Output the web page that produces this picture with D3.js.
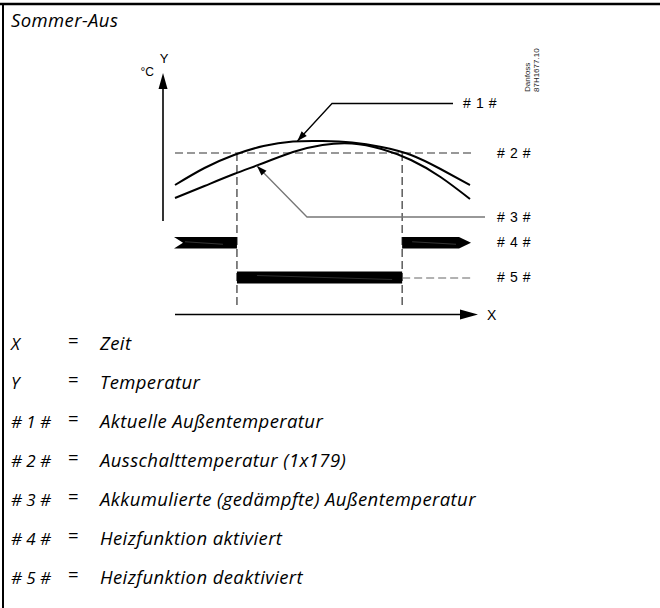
<!DOCTYPE html>
<html><head><meta charset="utf-8">
<script src="https://cdn.jsdelivr.net/npm/d3@7"></script>
<style>body{margin:0;background:#fff}svg{display:block}</style>
</head><body>
<script>
// ---- data ----
const timeSteps = [0, 10, 20, 30, 40, 50, 60, 70, 80, 90, 100];
const actualTemp = [14.8, 16.5, 17.8, 18.7, 19.15, 19.2, 19.05, 18.6, 17.8, 16.4, 14.8];
const accumulatedTemp = [13.5, 14.7, 15.9, 17.0, 18.1, 18.8, 18.95, 18.4, 17.3, 15.6, 13.4];
const cutoffTemp = 18;
const switchTimes = [21, 77];
const activePeriods = [[0, 21], [77, 100]];
const inactivePeriods = [[21, 77]];
const markerLabels = ["# 1 #", "# 2 #", "# 3 #", "# 4 #", "# 5 #"];
const legendKeys = ["X", "Y", "# 1 #", "# 2 #", "# 3 #", "# 4 #", "# 5 #"];
const legendTexts = ["Zeit", "Temperatur", "Aktuelle Außentemperatur", "Ausschalttemperatur (1x179)",
  "Akkumulierte (gedämpfte) Außentemperatur", "Heizfunktion aktiviert", "Heizfunktion deaktiviert"];
const title = "Sommer-Aus";

// ---- drawing ----
const W = 660, H = 608;
const svg = d3.select("body").append("svg").attr("width", W).attr("height", H);
const sans = "'Liberation Sans', Arial, sans-serif";
const ital = "'Open Sans', 'Noto Sans', sans-serif";
const italSize = 18.5, italSpacing = 0.4;

// frame
svg.append("line").attr("x1", 0).attr("x2", W).attr("y1", 4).attr("y2", 4).attr("stroke", "#000").attr("stroke-width", 2.5);
svg.append("line").attr("x1", 3).attr("x2", 3).attr("y1", 3).attr("y2", H).attr("stroke", "#000").attr("stroke-width", 2);

svg.append("text").attr("x", 11).attr("y", 27).text(title)
  .attr("font-family", ital).attr("font-style", "italic").attr("font-size", italSize).attr("letter-spacing", italSpacing);

const x = d3.scaleLinear().domain([0, 100]).range([175, 470]);
const y = d3.scaleLinear().domain([11.2, 26]).range([221, 73]);

// Y axis
const yAxisX = 163;
svg.append("line").attr("x1", yAxisX).attr("x2", yAxisX).attr("y1", y(11.2)).attr("y2", y(26) + 10)
  .attr("stroke", "#000").attr("stroke-width", 1.6);
svg.append("path").attr("d", `M${yAxisX},${y(26)} L${yAxisX - 4.5},${y(26) + 16} L${yAxisX + 4.5},${y(26) + 16} Z`).attr("fill", "#000");
svg.append("text").attr("x", yAxisX + 1).attr("y", 63).attr("text-anchor", "middle").text("Y")
  .attr("font-family", sans).attr("font-size", 13);
svg.append("text").attr("x", 154).attr("y", 76).attr("text-anchor", "end").text("°C")
  .attr("font-family", sans).attr("font-size", 12);

// X axis
const xAxisY = 314.5;
svg.append("line").attr("x1", x(0)).attr("x2", 465).attr("y1", xAxisY).attr("y2", xAxisY)
  .attr("stroke", "#000").attr("stroke-width", 1.6);
svg.append("path").attr("d", `M478,${xAxisY} L460,${xAxisY - 5} L460,${xAxisY + 5} Z`).attr("fill", "#000");
svg.append("text").attr("x", 487).attr("y", 320).text("X").attr("font-family", sans).attr("font-size", 14);

// cutoff dashed
svg.append("line").attr("x1", x(0)).attr("x2", 472).attr("y1", y(cutoffTemp)).attr("y2", y(cutoffTemp))
  .attr("stroke", "#333").attr("stroke-width", 1.2).attr("stroke-dasharray", "8,4");
// vertical dashed lines
svg.selectAll(".vd").data(switchTimes).enter().append("line")
  .attr("x1", d => x(d)).attr("x2", d => x(d)).attr("y1", y(cutoffTemp)).attr("y2", 306)
  .attr("stroke", "#333").attr("stroke-width", 1.2).attr("stroke-dasharray", "8,4");

// curves
const line = d3.line().x((d, i) => x(timeSteps[i])).y(d => y(d)).curve(d3.curveNatural);
[actualTemp, accumulatedTemp].forEach(s => {
  svg.append("path").attr("d", line(s)).attr("fill", "none").attr("stroke", "#000").attr("stroke-width", 2);
});

// arrow helper
function arrowLine(pts, color, arrowColor) {
  svg.append("path").attr("d", d3.line()(pts)).attr("fill", "none").attr("stroke", color).attr("stroke-width", 1.3);
  const [a, b] = [pts[pts.length - 2], pts[pts.length - 1]];
  const ang = Math.atan2(b[1] - a[1], b[0] - a[0]);
  const L = 10, w = 3.5;
  const bx = b[0] - L * Math.cos(ang), by = b[1] - L * Math.sin(ang);
  const px = -Math.sin(ang) * w, py = Math.cos(ang) * w;
  svg.append("path").attr("d", `M${b[0]},${b[1]} L${bx + px},${by + py} L${bx - px},${by - py} Z`).attr("fill", arrowColor);
}
// #1 leader
arrowLine([[453, 103.5], [332, 103.5], [x(41.5), y(19.15) - 0.5]], "#000", "#000");
// #3 leader
arrowLine([[485, 217], [307, 217], [257, 166]], "#777", "#000");

// bars: heating active
const barTop4 = 237, barBot4 = 248.5, mid4 = (barTop4 + barBot4) / 2;
activePeriods.forEach(([a, b], i) => {
  let d;
  if (i === 0) d = `M${x(a) - 1},${barTop4} L${x(b)},${barTop4} L${x(b)},${barBot4} L${x(a) - 1},${barBot4} L${x(a) + 8},${mid4} Z`;
  else d = `M${x(a)},${barTop4} L${x(b) - 11},${barTop4} L${x(b) + 1},${mid4} L${x(b) - 11},${barBot4} L${x(a)},${barBot4} Z`;
  svg.append("path").attr("d", d).attr("fill", "#000");
  svg.append("line").attr("x1", x(a) + 10).attr("x2", x(b) - 14).attr("y1", mid4 - 1).attr("y2", mid4 + 1.5)
    .attr("stroke", "#fff").attr("stroke-opacity", 0.35).attr("stroke-width", 0.6);
});
// bars: heating inactive
const barTop5 = 271.5, barBot5 = 283.5;
inactivePeriods.forEach(([a, b]) => {
  svg.append("rect").attr("x", x(a)).attr("y", barTop5).attr("width", x(b) - x(a)).attr("height", barBot5 - barTop5).attr("fill", "#000");
  svg.append("line").attr("x1", x(a) + 20).attr("x2", x(b) - 10).attr("y1", barTop5 + 4).attr("y2", barTop5 + 8)
    .attr("stroke", "#fff").attr("stroke-opacity", 0.3).attr("stroke-width", 0.6);
});
svg.append("line").attr("x1", x(switchTimes[1])).attr("x2", 472).attr("y1", 278).attr("y2", 278)
  .attr("stroke", "#666").attr("stroke-width", 1.1).attr("stroke-dasharray", "8,4");

// marker labels
const markerY = [108, 158, 222, 247, 282];
const markerX = [463, 497, 497, 497, 497];
svg.selectAll(".ml").data(markerLabels).enter().append("text")
  .attr("x", (d, i) => markerX[i]).attr("y", (d, i) => markerY[i]).text(d => d)
  .attr("font-family", sans).attr("font-size", 14).attr("letter-spacing", 0.6);

// Danfoss code
const dg = svg.append("g").attr("font-family", sans).attr("font-size", 8).attr("fill", "#222");
dg.append("text").attr("transform", "translate(530,92) rotate(-90)").text("Danfoss");
dg.append("text").attr("transform", "translate(538.5,92) rotate(-90)").text("87H1677.10");

// legend
const legendY0 = 350, legendStep = 39;
const lg = svg.append("g");
legendKeys.forEach((k, i) => {
  const yy = legendY0 + i * legendStep;
  lg.append("text").attr("x", 11).attr("y", yy).text(k)
    .attr("font-family", ital).attr("font-style", "italic").attr("font-size", 17);
  lg.append("text").attr("x", 68).attr("y", yy - 3).text("=")
    .attr("font-family", ital).attr("font-size", italSize);
  lg.append("text").attr("x", 100).attr("y", yy).text(legendTexts[i])
    .attr("font-family", ital).attr("font-style", "italic").attr("font-size", italSize).attr("letter-spacing", italSpacing);
});
</script>
</body></html>
